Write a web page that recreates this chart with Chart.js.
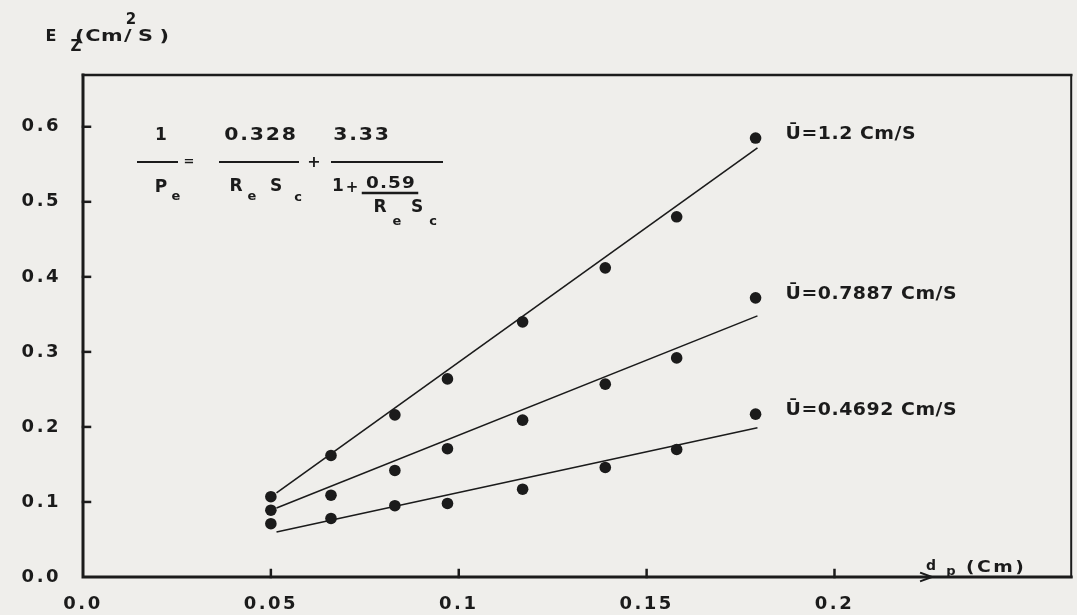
<!DOCTYPE html>
<html>
<head>
<meta charset="utf-8">
<script src="https://cdn.jsdelivr.net/npm/chart.js@4.4.1/dist/chart.umd.min.js"></script>
<style>
  html, body { margin: 0; padding: 0; background: #efeeeb; }
  #wrap { width: 1077px; height: 615px; position: relative; }
</style>
</head>
<body>
<div id="wrap"><canvas id="ezChart"></canvas></div>
<script>
// particle diameter d_p (cm) and dispersion coefficient E_z (cm2/s)
const dpValues = [0.05, 0.066, 0.083, 0.097, 0.117, 0.139, 0.158, 0.179];
const ezU120 = [0.107, 0.162, 0.216, 0.264, 0.340, 0.412, 0.480, 0.585];
const ezU0789 = [0.089, 0.109, 0.142, 0.171, 0.209, 0.257, 0.292, 0.372];
const ezU0469 = [0.071, 0.078, 0.095, 0.098, 0.117, 0.146, 0.170, 0.217];

// fitted straight lines (end points)
const fitX = [0.0515, 0.1795];
const fitU120 = [0.112, 0.572];
const fitU0789 = [0.092, 0.348];
const fitU0469 = [0.060, 0.199];

const seriesLabels = ['Ū=1.2 Cm/S', 'Ū=0.7887 Cm/S', 'Ū=0.4692 Cm/S'];
const xTicks = [0, 0.05, 0.1, 0.15, 0.2];
const xTickLabels = ['0.0', '0.05', '0.1', '0.15', '0.2'];
const yTicks = [0, 0.1, 0.2, 0.3, 0.4, 0.5, 0.6];
const yTickLabels = ['0.0', '0.1', '0.2', '0.3', '0.4', '0.5', '0.6'];

const INK = '#1b1b1b';
const FONT = '"DejaVu Sans", sans-serif';

const toPoints = (xs, ys) => xs.map((x, i) => ({ x: x, y: ys[i] }));

const pointSet = (ys) => ({
    data: toPoints(dpValues, ys),
    showLine: false,
    pointRadius: 5.8,
    pointBackgroundColor: INK,
    pointBorderColor: INK,
    pointBorderWidth: 0
});

const lineSet = (ys) => ({
    data: toPoints(fitX, ys),
    showLine: true,
    pointRadius: 0,
    borderColor: INK,
    borderWidth: 1.6
});

const paperPlugin = {
    id: 'paper',
    beforeDraw(chart) {
        const ctx = chart.ctx;
        ctx.save();
        ctx.fillStyle = '#efeeeb';
        ctx.fillRect(0, 0, chart.width, chart.height);
        ctx.restore();
        // hand lettering is widely spaced
        ctx.letterSpacing = '2.5px';
    }
};

const notesPlugin = {
    id: 'notes',
    afterDraw(chart) {
        const ctx = chart.ctx;
        const a = chart.chartArea;
        const xs = chart.scales.x;
        const ys = chart.scales.y;

        // text drawn with an optional horizontal stretch
        const txt = (s, x, y, size, align, sx, ls) => {
            ctx.save();
            ctx.font = 'bold ' + size + 'px ' + FONT;
            ctx.letterSpacing = (ls || 0) + 'px';
            ctx.textAlign = align || 'center';
            ctx.textBaseline = 'middle';
            ctx.translate(x, y);
            ctx.scale(sx || 1, 1);
            ctx.fillText(s, 0, 0);
            ctx.restore();
        };
        const bar = (x1, x2, y, w) => {
            ctx.lineWidth = w || 2;
            ctx.beginPath();
            ctx.moveTo(x1, y);
            ctx.lineTo(x2, y);
            ctx.stroke();
        };

        ctx.save();
        ctx.fillStyle = INK;
        ctx.strokeStyle = INK;

        // frame
        ctx.lineCap = 'square';
        ctx.lineWidth = 3;
        ctx.beginPath();
        ctx.moveTo(a.left, a.top);
        ctx.lineTo(a.left, a.bottom);
        ctx.lineTo(a.right, a.bottom);
        ctx.stroke();
        ctx.lineWidth = 2.5;
        ctx.beginPath();
        ctx.moveTo(a.left, a.top);
        ctx.lineTo(a.right, a.top);
        ctx.stroke();
        ctx.lineWidth = 2;
        ctx.beginPath();
        ctx.moveTo(a.right, a.top);
        ctx.lineTo(a.right, a.bottom);
        ctx.stroke();

        // inward tick marks
        ctx.lineWidth = 2.5;
        xTicks.slice(1).forEach(v => {
            const px = xs.getPixelForValue(v);
            ctx.beginPath();
            ctx.moveTo(px, a.bottom);
            ctx.lineTo(px, a.bottom - 7);
            ctx.stroke();
        });
        yTicks.slice(1).forEach(v => {
            const py = ys.getPixelForValue(v);
            ctx.beginPath();
            ctx.moveTo(a.left, py);
            ctx.lineTo(a.left + 7, py);
            ctx.stroke();
        });

        // arrow on x axis before the axis title
        ctx.lineWidth = 2;
        ctx.beginPath();
        ctx.moveTo(921, a.bottom - 4);
        ctx.lineTo(932, a.bottom);
        ctx.lineTo(921, a.bottom + 4);
        ctx.stroke();

        // y axis title  E_z (cm^2/s)
        txt('E', 51, 37, 16);
        txt('Z', 76, 47, 15);
        txt('(Cm', 75, 37, 16, 'left', 1.3, 0.5);
        txt('2', 131, 20, 15);
        txt('/S)', 124, 37, 16, 'left', 1.3, 5);

        // x axis title  d_p (cm)
        txt('d', 931, 566, 14);
        txt('p', 951, 572, 13);
        txt('(Cm)', 966, 568, 15, 'left', 1.25, 2);

        // equation  1/Pe = 0.328/(Re Sc) + 3.33/(1 + 0.59/(Re Sc))
        txt('1', 161, 136, 17);
        bar(138, 177, 162);
        txt('=', 189, 162, 13);
        txt('P', 161, 188, 17);
        txt('e', 176, 197, 13);
        txt('0.328', 261, 136, 17, 'center', 1.2, 1.5);
        bar(220, 298, 162);
        txt('R', 236, 187, 17);
        txt('e', 252, 197, 13);
        txt('S', 276, 187, 17);
        txt('c', 298, 198, 13);
        txt('+', 314, 163, 16);
        txt('3.33', 362, 136, 17, 'center', 1.2, 1.5);
        bar(332, 442, 162);
        txt('1', 338, 187, 17);
        txt('+', 352, 188, 15);
        txt('0.59', 391, 184, 16, 'center', 1.15, 1);
        bar(363, 417, 193, 2.5);
        txt('R', 380, 208, 17);
        txt('e', 397, 222, 13);
        txt('S', 417, 208, 17);
        txt('c', 433, 222, 13);

        // series labels next to the last point of each series
        [ezU120, ezU0789, ezU0469].forEach((vals, i) => {
            const last = vals.length - 1;
            const px = xs.getPixelForValue(dpValues[last]);
            const py = ys.getPixelForValue(vals[last]);
            txt(seriesLabels[i], px + 30, py - 4, 18, 'left', 1.05, 0.5);
        });

        ctx.restore();
    }
};

const ctx = document.getElementById('ezChart');

new Chart(ctx, {
    type: 'scatter',
    data: {
        datasets: [
            pointSet(ezU120),
            pointSet(ezU0789),
            pointSet(ezU0469),
            lineSet(fitU120),
            lineSet(fitU0789),
            lineSet(fitU0469)
        ]
    },
    options: {
        animation: false,
        responsive: true,
        maintainAspectRatio: false,
        layout: {
            padding: { top: 75, right: 4, left: 0, bottom: 0 }
        },
        scales: {
            x: {
                type: 'linear',
                min: 0,
                max: 0.263,
                grid: { display: false, drawTicks: false },
                border: { display: false },
                afterBuildTicks: (scale) => {
                    scale.ticks = xTicks.map(v => ({ value: v }));
                },
                afterFit: (scale) => { scale.height = 38; },
                ticks: {
                    padding: 17,
                    color: INK,
                    font: { family: FONT, weight: 'bold', size: 18 },
                    callback: (value) => xTickLabels[xTicks.indexOf(value)]
                }
            },
            y: {
                type: 'linear',
                min: 0,
                max: 0.669,
                grid: { display: false, drawTicks: false },
                border: { display: false },
                afterBuildTicks: (scale) => {
                    scale.ticks = yTicks.map(v => ({ value: v }));
                },
                afterFit: (scale) => { scale.width = 83; },
                ticks: {
                    padding: 22,
                    color: INK,
                    font: { family: FONT, weight: 'bold', size: 18 },
                    callback: (value) => yTickLabels[yTicks.indexOf(value)]
                }
            }
        },
        plugins: {
            legend: { display: false },
            tooltip: { enabled: false }
        }
    },
    plugins: [paperPlugin, notesPlugin]
});
</script>
</body>
</html>
